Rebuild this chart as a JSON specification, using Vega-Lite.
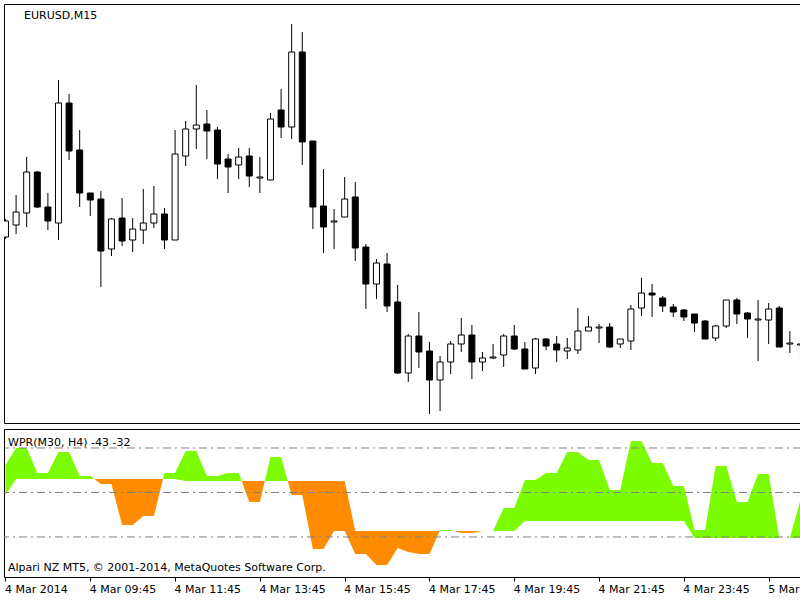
{
 "$schema": "https://vega.github.io/schema/vega-lite/v6.json",
 "padding": {"left": 3, "top": 3, "right": 0, "bottom": 0},
 "spacing": 4,
 "background": "white",
 "config": {"view": {"stroke": "#000", "strokeWidth": 1}, "font": "DejaVu Sans", "scale": {"continuousPadding": 0}},
 "datasets": {
  "candles": [
   {"i":0,"o":194,"h":212,"l":192,"c":210},{"i":1,"o":206,"h":236,"l":197,"c":219},{"i":2,"o":218,"h":274,"l":204,"c":259},{"i":3,"o":259,"h":260,"l":223,"c":224},
   {"i":4,"o":224,"h":238,"l":201,"c":210},{"i":5,"o":208,"h":351,"l":191,"c":328},{"i":6,"o":328,"h":337,"l":271,"c":280},{"i":7,"o":281,"h":301,"l":224,"c":238},
   {"i":8,"o":238,"h":238,"l":215,"c":231},{"i":9,"o":232,"h":240,"l":144,"c":180},{"i":10,"o":182,"h":213,"l":175,"c":212},{"i":11,"o":213,"h":233,"l":185,"c":190},
   {"i":12,"o":191,"h":213,"l":179,"c":202},{"i":13,"o":201,"h":242,"l":187,"c":208},{"i":14,"o":208,"h":245,"l":203,"c":217},{"i":15,"o":217,"h":223,"l":182,"c":191},
   {"i":16,"o":191,"h":301,"l":191,"c":277},{"i":17,"o":275,"h":310,"l":265,"c":302},{"i":18,"o":302,"h":346,"l":282,"c":306},{"i":19,"o":307,"h":321,"l":272,"c":300},
   {"i":20,"o":301,"h":304,"l":252,"c":267},{"i":21,"o":272,"h":277,"l":238,"c":264},{"i":22,"o":266,"h":283,"l":252,"c":274},{"i":23,"o":275,"h":283,"l":244,"c":255},
   {"i":24,"o":253,"h":274,"l":238,"c":254},{"i":25,"o":251,"h":318,"l":251,"c":312},{"i":26,"o":321,"h":342,"l":293,"c":304},{"i":27,"o":304,"h":407,"l":292,"c":379},
   {"i":28,"o":379,"h":399,"l":266,"c":289},{"i":29,"o":290,"h":290,"l":202,"c":224},{"i":30,"o":225,"h":262,"l":178,"c":204},{"i":31,"o":209,"h":222,"l":182,"c":210},
   {"i":32,"o":214,"h":254,"l":214,"c":232},{"i":33,"o":234,"h":249,"l":170,"c":183},{"i":34,"o":184,"h":187,"l":122,"c":147},{"i":35,"o":147,"h":172,"l":132,"c":168},
   {"i":36,"o":167,"h":178,"l":119,"c":125},{"i":37,"o":129,"h":146,"l":57,"c":58},{"i":38,"o":58,"h":97,"l":49,"c":95},{"i":39,"o":95,"h":119,"l":63,"c":79},
   {"i":40,"o":80,"h":89,"l":17,"c":51},{"i":41,"o":51,"h":75,"l":20,"c":69},{"i":42,"o":69,"h":90,"l":57,"c":87},{"i":43,"o":87,"h":113,"l":79,"c":96},
   {"i":44,"o":96,"h":106,"l":52,"c":69},{"i":45,"o":69,"h":79,"l":60,"c":73},{"i":46,"o":73,"h":87,"l":72,"c":74},{"i":47,"o":76,"h":97,"l":64,"c":95},
   {"i":48,"o":95,"h":106,"l":81,"c":82},{"i":49,"o":82,"h":89,"l":62,"c":62},{"i":50,"o":63,"h":93,"l":57,"c":92},{"i":51,"o":92,"h":93,"l":81,"c":85},
   {"i":52,"o":87,"h":95,"l":69,"c":81},{"i":53,"o":80,"h":93,"l":72,"c":83},{"i":54,"o":81,"h":123,"l":77,"c":100},{"i":55,"o":100,"h":115,"l":100,"c":104},
   {"i":56,"o":103,"h":107,"l":88,"c":104},{"i":57,"o":104,"h":108,"l":83,"c":84},{"i":58,"o":87,"h":92,"l":83,"c":92},{"i":59,"o":90,"h":126,"l":81,"c":122},
   {"i":60,"o":123,"h":153,"l":115,"c":138},{"i":61,"o":138,"h":147,"l":114,"c":136},{"i":62,"o":133,"h":135,"l":119,"c":125},{"i":63,"o":124,"h":127,"l":114,"c":119},
   {"i":64,"o":121,"h":122,"l":110,"c":114},{"i":65,"o":117,"h":117,"l":99,"c":108},{"i":66,"o":110,"h":111,"l":92,"c":92},{"i":67,"o":93,"h":106,"l":90,"c":105},
   {"i":68,"o":105,"h":131,"l":103,"c":131},{"i":69,"o":131,"h":133,"l":107,"c":117},{"i":70,"o":118,"h":119,"l":93,"c":112},{"i":71,"o":111,"h":131,"l":70,"c":112},
   {"i":72,"o":111,"h":128,"l":87,"c":122},{"i":73,"o":123,"h":125,"l":84,"c":84},{"i":74,"o":87,"h":100,"l":78,"c":88},{"i":75,"o":86,"h":95,"l":73,"c":87}
  ],
  "wpr": [
   {"seg":1,"dir":"up","i":0,"m30":-31.5,"h4":-51.5},{"seg":1,"dir":"up","i":1,"m30":-20.0,"h4":-40.9},{"seg":1,"dir":"up","i":2,"m30":-20.0,"h4":-40.9},
   {"seg":1,"dir":"up","i":3,"m30":-36.9,"h4":-40.9},{"seg":1,"dir":"up","i":4,"m30":-36.9,"h4":-40.9},{"seg":1,"dir":"up","i":5,"m30":-22.7,"h4":-40.9},
   {"seg":1,"dir":"up","i":6,"m30":-22.7,"h4":-40.9},{"seg":1,"dir":"up","i":7,"m30":-38.9,"h4":-40.9},{"seg":1,"dir":"up","i":8,"m30":-38.9,"h4":-40.9},
   {"seg":1,"dir":"up","i":8.375,"m30":-40.9,"h4":-40.9},
   {"seg":2,"dir":"down","i":8.375,"m30":-40.9,"h4":-40.9},{"seg":2,"dir":"down","i":9,"m30":-44.3,"h4":-40.9},{"seg":2,"dir":"down","i":10,"m30":-44.3,"h4":-40.9},
   {"seg":2,"dir":"down","i":11,"m30":-71.9,"h4":-40.9},{"seg":2,"dir":"down","i":12,"m30":-71.9,"h4":-40.9},{"seg":2,"dir":"down","i":13,"m30":-65.8,"h4":-40.9},
   {"seg":2,"dir":"down","i":14,"m30":-65.8,"h4":-40.9},{"seg":2,"dir":"down","i":14.86,"m30":-40.9,"h4":-40.9},
   {"seg":3,"dir":"up","i":14.86,"m30":-40.9,"h4":-40.9},{"seg":3,"dir":"up","i":15,"m30":-36.9,"h4":-40.9},{"seg":3,"dir":"up","i":16,"m30":-36.9,"h4":-40.9},
   {"seg":3,"dir":"up","i":17,"m30":-22.0,"h4":-42.2},{"seg":3,"dir":"up","i":18,"m30":-22.0,"h4":-42.2},{"seg":3,"dir":"up","i":19,"m30":-38.9,"h4":-42.2},
   {"seg":3,"dir":"up","i":20,"m30":-38.9,"h4":-42.2},{"seg":3,"dir":"up","i":21,"m30":-36.9,"h4":-42.2},{"seg":3,"dir":"up","i":22,"m30":-36.9,"h4":-42.2},
   {"seg":3,"dir":"up","i":22.28,"m30":-42.2,"h4":-42.2},
   {"seg":4,"dir":"down","i":22.28,"m30":-42.2,"h4":-42.2},{"seg":4,"dir":"down","i":23,"m30":-56.4,"h4":-42.2},{"seg":4,"dir":"down","i":24,"m30":-56.4,"h4":-42.2},
   {"seg":4,"dir":"down","i":24.47,"m30":-42.2,"h4":-42.2},
   {"seg":5,"dir":"up","i":24.47,"m30":-42.2,"h4":-42.2},{"seg":5,"dir":"up","i":25,"m30":-26.1,"h4":-42.2},{"seg":5,"dir":"up","i":26,"m30":-26.1,"h4":-42.2},
   {"seg":5,"dir":"up","i":26.63,"m30":-42.2,"h4":-42.2},
   {"seg":6,"dir":"down","i":26.63,"m30":-42.2,"h4":-42.2},{"seg":6,"dir":"down","i":27,"m30":-51.7,"h4":-42.2},{"seg":6,"dir":"down","i":28,"m30":-51.7,"h4":-42.2},
   {"seg":6,"dir":"down","i":29,"m30":-88.1,"h4":-42.2},{"seg":6,"dir":"down","i":30,"m30":-88.1,"h4":-42.2},{"seg":6,"dir":"down","i":31,"m30":-76.0,"h4":-42.2},
   {"seg":6,"dir":"down","i":32,"m30":-76.0,"h4":-42.2},{"seg":6,"dir":"down","i":33,"m30":-91.5,"h4":-76.0},{"seg":6,"dir":"down","i":34,"m30":-91.5,"h4":-76.0},
   {"seg":6,"dir":"down","i":35,"m30":-98.9,"h4":-76.0},{"seg":6,"dir":"down","i":36,"m30":-98.9,"h4":-76.0},{"seg":6,"dir":"down","i":37,"m30":-87.4,"h4":-76.0},
   {"seg":6,"dir":"down","i":38,"m30":-90.1,"h4":-76.0},{"seg":6,"dir":"down","i":39,"m30":-91.5,"h4":-76.0},{"seg":6,"dir":"down","i":40,"m30":-91.5,"h4":-76.0},
   {"seg":6,"dir":"down","i":40.96,"m30":-76.0,"h4":-76.0},
   {"seg":7,"dir":"up","i":40.96,"m30":-76.0,"h4":-76.0},{"seg":7,"dir":"up","i":41,"m30":-75.3,"h4":-76.0},{"seg":7,"dir":"up","i":42,"m30":-75.3,"h4":-76.0},
   {"seg":7,"dir":"up","i":42.33,"m30":-76.0,"h4":-76.0},
   {"seg":8,"dir":"down","i":42.33,"m30":-76.0,"h4":-76.0},{"seg":8,"dir":"down","i":43,"m30":-77.3,"h4":-76.0},{"seg":8,"dir":"down","i":44,"m30":-77.3,"h4":-76.0},
   {"seg":8,"dir":"down","i":45,"m30":-76.0,"h4":-76.0},
   {"seg":9,"dir":"up","i":46,"m30":-76.0,"h4":-76.0},{"seg":9,"dir":"up","i":47,"m30":-60.4,"h4":-76.0},{"seg":9,"dir":"up","i":48,"m30":-60.4,"h4":-76.0},
   {"seg":9,"dir":"up","i":49,"m30":-41.6,"h4":-69.2},{"seg":9,"dir":"up","i":50,"m30":-41.6,"h4":-69.2},{"seg":9,"dir":"up","i":51,"m30":-36.9,"h4":-69.2},
   {"seg":9,"dir":"up","i":52,"m30":-36.9,"h4":-69.2},{"seg":9,"dir":"up","i":53,"m30":-22.7,"h4":-69.2},{"seg":9,"dir":"up","i":54,"m30":-22.7,"h4":-69.2},
   {"seg":9,"dir":"up","i":55,"m30":-28.1,"h4":-69.2},{"seg":9,"dir":"up","i":56,"m30":-28.1,"h4":-69.2},{"seg":9,"dir":"up","i":57,"m30":-48.3,"h4":-69.2},
   {"seg":9,"dir":"up","i":58,"m30":-48.3,"h4":-69.2},{"seg":9,"dir":"up","i":59,"m30":-15.3,"h4":-69.2},{"seg":9,"dir":"up","i":60,"m30":-15.3,"h4":-69.2},
   {"seg":9,"dir":"up","i":61,"m30":-30.1,"h4":-69.2},{"seg":9,"dir":"up","i":62,"m30":-30.1,"h4":-69.2},{"seg":9,"dir":"up","i":63,"m30":-45.6,"h4":-69.2},
   {"seg":9,"dir":"up","i":64,"m30":-45.6,"h4":-69.2},{"seg":9,"dir":"up","i":65,"m30":-75.3,"h4":-80.7},{"seg":9,"dir":"up","i":66,"m30":-75.3,"h4":-80.7},
   {"seg":9,"dir":"up","i":67,"m30":-32.1,"h4":-80.7},{"seg":9,"dir":"up","i":68,"m30":-32.1,"h4":-80.7},{"seg":9,"dir":"up","i":69,"m30":-56.4,"h4":-80.7},
   {"seg":9,"dir":"up","i":70,"m30":-56.4,"h4":-80.7},{"seg":9,"dir":"up","i":71,"m30":-37.5,"h4":-80.7},{"seg":9,"dir":"up","i":72,"m30":-37.5,"h4":-80.7},
   {"seg":9,"dir":"up","i":73,"m30":-80.7,"h4":-80.7},{"seg":9,"dir":"up","i":74,"m30":-80.7,"h4":-80.7},{"seg":9,"dir":"up","i":75,"m30":-55.1,"h4":-80.7}
  ],
  "levels": [{"level": -20}, {"level": -50}, {"level": -80}]
 },
 "vconcat": [
  {
   "width": 797,
   "height": 419,
   "data": {"name": "candles"},
   "layer": [
    {
     "mark": {"type": "rule", "color": "#000", "strokeWidth": 1, "clip": true},
     "encoding": {
      "x": {"field": "i", "type": "quantitative", "scale": {"domain": [-0.14, 75.05], "nice": false, "zero": false, "padding": 0}, "axis": null},
      "y": {"field": "l", "type": "quantitative", "scale": {"domain": [8, 427], "nice": false, "zero": false}, "axis": null},
      "y2": {"field": "h"}
     }
    },
    {
     "mark": {"type": "bar", "size": 6, "stroke": "#000", "strokeWidth": 1, "clip": true},
     "encoding": {
      "x": {"field": "i", "type": "quantitative"},
      "y": {"field": "o", "type": "quantitative"},
      "y2": {"field": "c"},
      "fill": {"condition": {"test": "datum.c >= datum.o", "value": "#ffffff"}, "value": "#000000"}
     }
    },
    {
     "data": {"values": [{"label": "EURUSD,M15"}]},
     "mark": {"type": "text", "align": "left", "baseline": "alphabetic", "fontSize": 11, "font": "DejaVu Sans", "color": "#000"},
     "encoding": {
      "x": {"datum": 1.75, "type": "quantitative"},
      "y": {"datum": 412, "type": "quantitative"},
      "text": {"field": "label"}
     }
    }
   ]
  },
  {
   "width": 797,
   "height": 148,
   "layer": [
    {
     "data": {"name": "wpr"},
     "mark": {"type": "area", "opacity": 1, "clip": true, "interpolate": "linear"},
     "encoding": {
      "x": {"field": "i", "type": "quantitative", "scale": {"domain": [-0.14, 75.05], "nice": false, "zero": false, "padding": 0},
       "axis": {"values": [0, 8, 16, 24, 32, 40, 48, 56, 64, 72],
        "labelExpr": "['4 Mar 2014','4 Mar 09:45','4 Mar 11:45','4 Mar 13:45','4 Mar 15:45','4 Mar 17:45','4 Mar 19:45','4 Mar 21:45','4 Mar 23:45','5 Mar 01:45'][round(datum.value / 8)]",
        "tickSize": 4, "tickColor": "#000", "tickWidth": 1, "labelColor": "#000", "labelFontSize": 11, "labelFont": "DejaVu Sans",
        "labelAlign": "left", "labelBaseline": "top", "labelPadding": 2, "labelOffset": -1, "labelFlush": false, "labelOverlap": false, "labelBound": false,
        "domain": false, "grid": false, "title": null}},
      "y": {"field": "m30", "type": "quantitative", "scale": {"domain": [-107, -7.2], "nice": false, "zero": false}, "axis": null},
      "y2": {"field": "h4"},
      "color": {"field": "dir", "type": "nominal", "scale": {"domain": ["up", "down"], "range": ["#7CFC00", "#FF8C00"]}, "legend": null},
      "detail": {"field": "seg", "type": "nominal"}
     }
    },
    {
     "data": {"name": "levels"},
     "mark": {"type": "rule", "color": "#808080", "strokeWidth": 1, "strokeDash": [8, 4, 2, 4]},
     "encoding": {"y": {"field": "level", "type": "quantitative"}}
    },
    {
     "data": {"values": [{"label": "WPR(M30, H4) -43 -32"}]},
     "mark": {"type": "text", "align": "left", "baseline": "alphabetic", "fontSize": 11, "font": "DejaVu Sans", "color": "#000"},
     "encoding": {"x": {"datum": 0.24, "type": "quantitative"}, "y": {"datum": -18.6, "type": "quantitative"}, "text": {"field": "label"}}
    },
    {
     "data": {"values": [{"label": "Alpari NZ MT5, © 2001-2014, MetaQuotes Software Corp."}]},
     "mark": {"type": "text", "align": "left", "baseline": "alphabetic", "fontSize": 11, "font": "DejaVu Sans", "color": "#000"},
     "encoding": {"x": {"datum": 0.24, "type": "quantitative"}, "y": {"datum": -102.9, "type": "quantitative"}, "text": {"field": "label"}}
    }
   ]
  }
 ]
}
